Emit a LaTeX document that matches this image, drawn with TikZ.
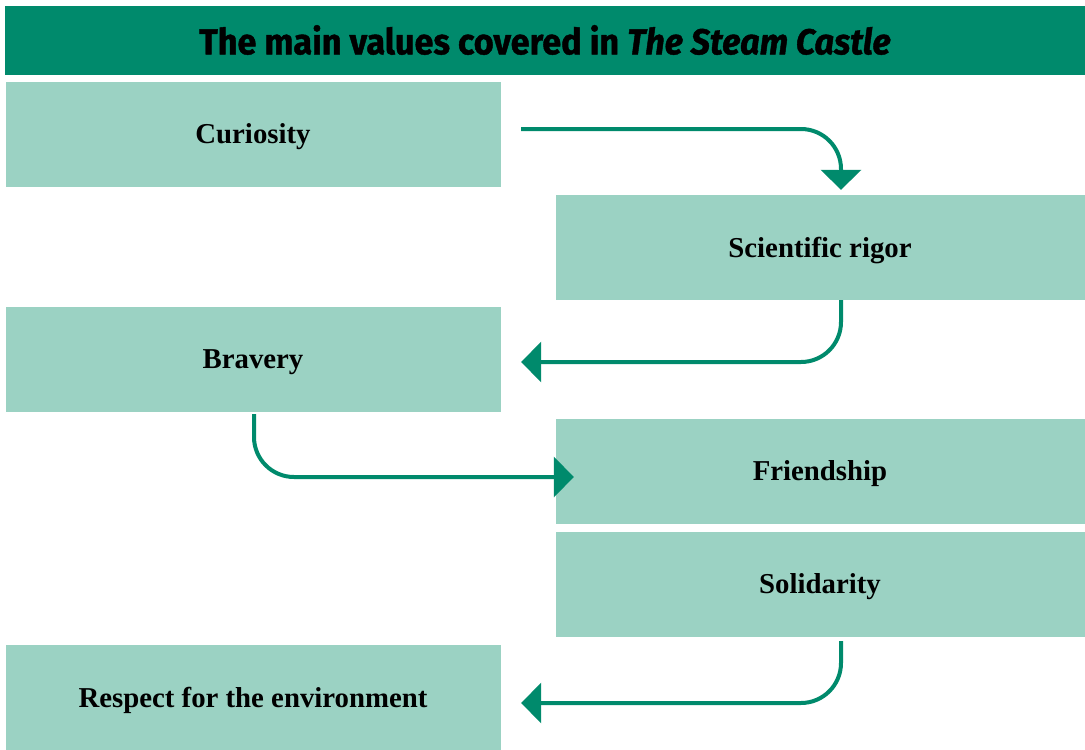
\documentclass[tikz,border=0pt]{standalone}
\usepackage{fontspec}
\usepackage{xcolor}
\usepackage{tikz}
\usetikzlibrary{arrows.meta, calc}
\setmainfont{Liberation Serif}
\newfontfamily\titulofont[FakeStretch=0.95, FakeBold=1.2]{Fira Sans}
\definecolor{verde}{HTML}{008A6C}
\definecolor{verdeclaro}{HTML}{9BD2C3}
\tikzset{
  valor/.style={fill=verdeclaro, draw=white, minimum width=496pt, minimum height=106pt, inner sep=0pt, text depth=0pt, font=\fontsize{28.8}{32}\selectfont\bfseries},
  valorder/.style={valor, minimum width=530pt},
  flecha/.style={-{Triangle[length=20pt, width=40pt]}, line width=4pt, draw=verde, rounded corners=40pt},
}

\begin{document}
\begin{tikzpicture}[x=1pt, y=-1pt]
  \useasboundingbox[fill=white] (0,0) rectangle (1085,750);
  \node[fill=verde, minimum width=1080pt, minimum height=69pt, inner sep=0pt, font=\titulofont\fontsize{36}{40}\selectfont\bfseries] (titulo) at (545,40) {The main values covered in \textit{The Steam Castle}};
  \node[valor] (curiosidad) at (253,134) {Curiosity};
  \node[valorder] (rigor) at (820,247) {Scientific rigor};
  \node[valor] (valentia) at (253,359) {Bravery};
  \node[valorder] (amistad) at (820,471) {Friendship};
  \node[valorder] (solidaridad) at (820,584) {Solidarity};
  \node[valor] (respeto) at (253,697) {Respect for the environment};
  \draw[flecha] ([shift={(20pt,5pt)}]curiosidad.east) -| ([shift={(21pt,4pt)}]rigor.north);
  \draw[flecha] ([xshift=21pt]rigor.south) |- ([shift={(20pt,-3pt)}]valentia.east);
  \draw[flecha] ([shift={(1pt,-2pt)}]valentia.south) |- ([shift={(19pt,-6pt)}]amistad.west);
  \draw[flecha] ([shift={(21pt,-4pt)}]solidaridad.south) |- ([shift={(20pt,-6pt)}]respeto.east);
\end{tikzpicture}
\end{document}
